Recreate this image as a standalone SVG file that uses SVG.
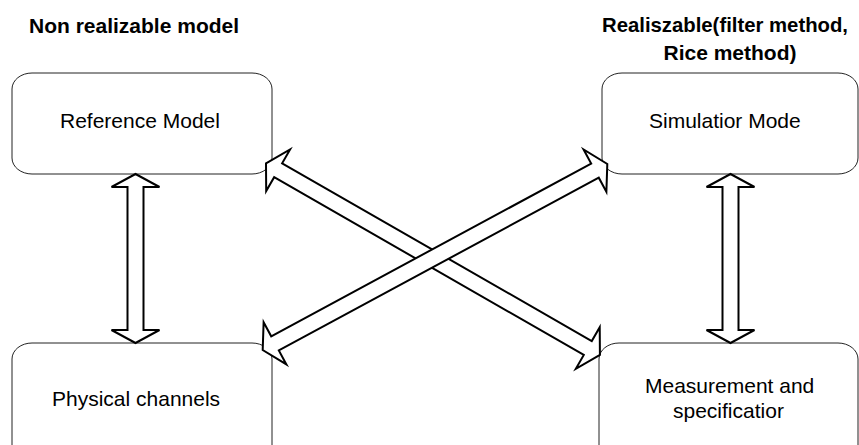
<svg xmlns="http://www.w3.org/2000/svg" width="859" height="445" viewBox="0 0 859 445">
  <style>
    .box { fill: #ffffff; stroke: #222222; stroke-width: 1; }
    .label { font-family: "Liberation Sans", Arial, sans-serif; font-size: 21px; fill: #000000; }
    .title { font-family: "Liberation Sans", Arial, sans-serif; font-size: 21px; font-weight: bold; fill: #000000; }
    .block { fill: #ffffff; stroke: #000000; stroke-width: 2; stroke-linejoin: miter; }
  </style>
  <rect width="859" height="445" fill="#ffffff"/>

  <!-- column headings -->
  <g id="headings">
    <text class="title" x="29" y="33">Non realizable model</text>
    <text class="title" x="725" y="32" text-anchor="middle" textLength="246" lengthAdjust="spacingAndGlyphs">Realiszable(filter method,</text>
    <text class="title" x="730" y="60" text-anchor="middle">Rice method)</text>
  </g>

  <!-- nodes -->
  <g id="reference-model">
    <rect class="box" x="12" y="73" width="260" height="101" rx="20" ry="16"/>
    <text class="label" x="60" y="128">Reference Model</text>
  </g>
  <g id="simulation-model">
    <rect class="box" x="602" y="73" width="256" height="101" rx="20" ry="16"/>
    <text class="label" x="649" y="128">Simulatior Mode</text>
  </g>
  <g id="physical-channels">
    <rect class="box" x="12" y="343" width="260" height="120" rx="20" ry="16"/>
    <text class="label" x="52" y="406">Physical channels</text>
  </g>
  <g id="measurement">
    <rect class="box" x="599" y="343" width="259" height="120" rx="20" ry="16"/>
    <text class="label" x="645" y="393">Measurement and</text>
    <text class="label" x="673" y="418">specificatior</text>
  </g>

  <!-- double-headed block arrows -->
  <g id="connectors">
    <polygon class="block" transform="translate(135.5,174) rotate(90)" points="0,0 13,-24 13,-8 156,-8 156,-24 169,0 156,24 156,8 13,8 13,24"/>
    <polygon class="block" transform="translate(730.5,174) rotate(90)" points="0,0 13,-24 13,-8 156,-8 156,-24 169,0 156,24 156,8 13,8 13,24"/>
    <polygon class="block" transform="translate(266,163.3) rotate(29.85)" points="0,0 14,-24 14,-8 371,-8 371,-24 385,0 371,24 371,8 14,8 14,24"/>
    <polygon class="block" transform="translate(262.7,350) rotate(-28.36)" points="0,0 14,-24 14,-8 377.6,-8 377.6,-24 391.6,0 377.6,24 377.6,8 14,8 14,24"/>
  </g>
</svg>
